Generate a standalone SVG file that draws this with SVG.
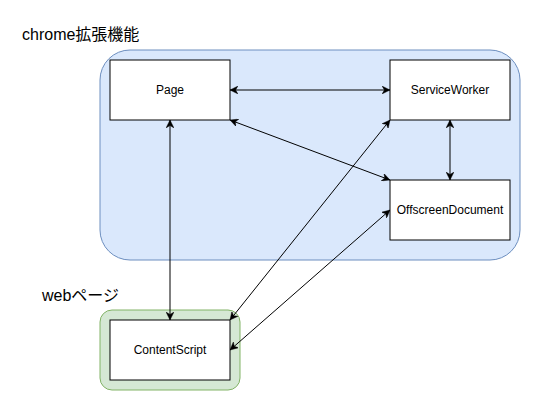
<svg xmlns="http://www.w3.org/2000/svg" width="541" height="411" viewBox="0 0 541 411">
<style>
.node rect{fill:#ffffff;stroke:#000000;stroke-width:1}
.node text{font-family:"Liberation Sans",Arial,sans-serif;font-size:12px;fill:#000;text-anchor:middle;dominant-baseline:central}
.title{font-family:"Liberation Sans","Noto Sans CJK JP",sans-serif;font-size:16px;fill:#000}
#connectors line{stroke:#000;stroke-width:1;fill:none;marker-start:url(#arr);marker-end:url(#arr)}
</style>
<defs>
<marker id="arr" viewBox="0 0 10 10" refX="10" refY="5" markerWidth="8" markerHeight="8" markerUnits="userSpaceOnUse" orient="auto-start-reverse">
<path d="M0,0 L10,5 L0,10 L3,5 z" fill="#000" stroke="#000" stroke-width="0.5"/>
</marker>
</defs>
<rect fill="#ffffff" x="0" y="0" width="541" height="411"/>
<g id="chrome-ext">
<rect x="100" y="50" width="420" height="210" rx="30" ry="30" fill="#dae8fc" stroke="#6c8ebf" stroke-width="1"/>
<text class="title" x="22" y="40">chrome拡張機能</text>
</g>
<g id="webpage">
<rect x="100" y="310" width="140" height="80" rx="12" ry="12" fill="#d5e8d4" stroke="#82b366" stroke-width="1"/>
<text class="title" x="42" y="301">webページ</text>
</g>
<g id="page" class="node"><rect x="110" y="60" width="120" height="60"/><text x="170" y="90">Page</text></g>
<g id="serviceworker" class="node"><rect x="390" y="60" width="120" height="60"/><text x="450" y="90">ServiceWorker</text></g>
<g id="offscreen" class="node"><rect x="390" y="180" width="120" height="60"/><text x="450" y="210">OffscreenDocument</text></g>
<g id="contentscript" class="node"><rect x="110" y="320" width="120" height="60"/><text x="170" y="350">ContentScript</text></g>
<g id="connectors">
<line x1="230" y1="90" x2="390" y2="90"/>
<line x1="230" y1="120" x2="390" y2="180"/>
<line x1="450" y1="120" x2="450" y2="180"/>
<line x1="170" y1="120" x2="170" y2="320"/>
<line x1="390" y1="120" x2="230" y2="320"/>
<line x1="390" y1="210" x2="230" y2="350"/>
</g>
</svg>
